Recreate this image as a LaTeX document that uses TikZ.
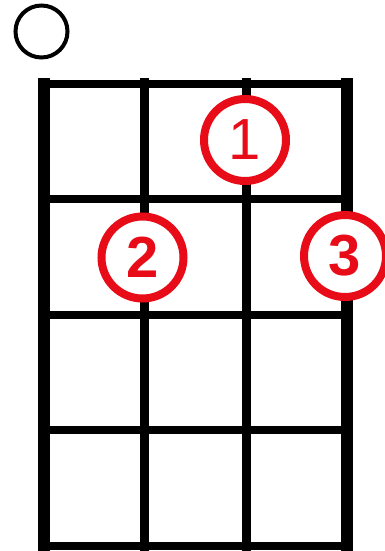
\documentclass[tikz,border=0pt]{standalone}
\usepackage{fontspec}
\setmainfont{Liberation Sans}
\definecolor{fingerred}{RGB}{232,12,24}
\begin{document}
\begin{tikzpicture}[x=1pt,y=-1pt,
  fret/.style={line width=8.5pt,black},
  stringin/.style={line width=9pt,black},
  stringout/.style={line width=12pt,black},
  finger/.style={circle,draw=fingerred,fill=white,line width=8pt,minimum size=82pt,inner sep=0pt,text=fingerred,font=\fontsize{58}{58}\selectfont\bfseries},
  openstr/.style={circle,draw=black,line width=4pt,minimum size=52pt,inner sep=0pt}]
\useasboundingbox (0,0) rectangle (385,551);
% frets
\foreach \y in {84,199,315,430,546} \draw[fret] (38,\y) -- (353,\y);
% strings
\draw[stringout] (44,78) -- (44,551);
\draw[stringin] (144,78) -- (144,551);
\draw[stringin] (246,78) -- (246,551);
\draw[stringout] (347,78) -- (347,551);
% open string
\node[openstr] (open) at (41.5,31.5) {};
% fingers
\node[finger,font=\fontsize{58}{58}\selectfont] (f1) at (245,140) {1};
\node[finger] (f2) at (142.5,257.5) {2};
\node[finger] (f3) at (345,256) {3};
\end{tikzpicture}
\end{document}
